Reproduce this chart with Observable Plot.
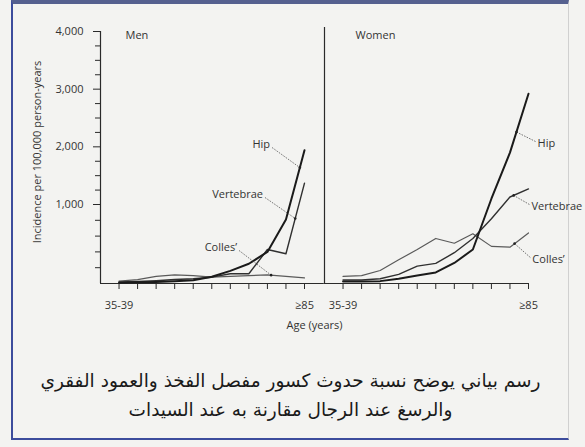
<!DOCTYPE html>
<html><head><meta charset="utf-8">
<script src="https://cdn.jsdelivr.net/npm/d3@7"></script>
<script src="https://cdn.jsdelivr.net/npm/@observablehq/plot@0.6"></script>
<style>
html,body{margin:0;padding:0;background:#f3f3f1;width:585px;height:447px;overflow:hidden;}
#page{position:relative;width:585px;height:447px;}
#frame{position:absolute;left:11px;top:0;width:558px;height:440px;border-left:2px solid #3c4c9c;border-bottom:2px solid #3c4c9c;border-top:4px solid #55608f;border-right:1px solid #d0d0d0;box-sizing:border-box;}
#chart{position:absolute;left:0;top:0;}
#caption{position:absolute;left:13px;top:366px;width:555px;text-align:center;direction:rtl;font-family:"DejaVu Sans",sans-serif;font-size:18.5px;line-height:29px;color:#1a1a1a;}
</style></head>
<body><div id="page"><div id="frame"></div><div id="chart"></div>
<div id="caption">رسم بياني يوضح نسبة حدوث كسور مفصل الفخذ والعمود الفقري<br>والرسغ عند الرجال مقارنة به عند السيدات</div></div>
<script>
const ages = ["35-39","40-44","45-49","50-54","55-59","60-64","65-69","70-74","75-79","80-84","≥85"];
const sexes = ["Men","Women"];
const sites = ["Hip","Vertebrae","Colles’"];
const menHip = [10, 15, 20, 30, 40, 85, 160, 250, 400, 810, 1940];
const menVertebrae = [20, 25, 35, 50, 60, 80, 123, 123, 430, 376, 1370];
const menColles = [30, 50, 90, 110, 100, 80, 90, 100, 110, 90, 70];
const womenHip = [25, 25, 30, 60, 100, 140, 260, 430, 1100, 1900, 2920];
const womenVertebrae = [45, 45, 60, 115, 220, 255, 390, 570, 820, 1130, 1270];
const womenColles = [90, 100, 165, 300, 430, 570, 510, 630, 470, 460, 640];
const yTicks = [1000, 2000, 3000, 4000];
const yMinorTicks = [200, 400, 600, 800, 1250, 1500, 1750, 2250, 2500, 2750, 3250, 3500, 3750];
const yLabel = "Incidence per 100,000 person-years";
const xLabel = "Age (years)";
// label annotations: series, point on the line (age index) and label anchor (age index, value)
const noteSex = ["Men","Men","Men","Women","Women","Women"];
const noteSite = ["Hip","Vertebrae","Colles’","Hip","Vertebrae","Colles’"];
const noteTipAt = [9.75, 9.5, 8.2, 9.35, 9.2, 9.25];
const noteFromAge = [8.25, 7.87, 6.47, 10.38, 10.05, 10.1];
const noteFromValue = [1988, 1121, 418, 2092, 1000, 329];

const series = {
  Men: {"Hip": menHip, "Vertebrae": menVertebrae, "Colles’": menColles},
  Women: {"Hip": womenHip, "Vertebrae": womenVertebrae, "Colles’": womenColles}
};
const rows = [];
for (const sex of sexes) for (const site of sites)
  series[sex][site].forEach((v, i) => rows.push({sex, site, i, age: ages[i], value: v}));

// the printed axis is stretched below 1,000 (broken scale): 0–1,000 takes more room than each 1,000 above
const breakAt = 1000, upperRatio = 57.67 / 79;
const warp = v => v <= breakAt ? v : breakAt + (v - breakAt) * upperRatio;
const unwarp = u => u <= breakAt ? u : breakAt + (u - breakAt) / upperRatio;
function along(vals, t) {
  const a = Math.floor(t), b = Math.min(a + 1, vals.length - 1), f = t - a;
  const pa = warp(vals[a]), pb = warp(vals[b]);
  return unwarp(pa + f * (pb - pa));
}
const notes = noteSex.map((sex, k) => ({
  sex, site: noteSite[k],
  tipX: noteTipAt[k], tipY: along(series[sex][noteSite[k]], noteTipAt[k]),
  fromX: noteFromAge[k], fromY: noteFromValue[k]
}));

const ink = "#2a2a2a";
const chart = Plot.plot({
  width: 585, height: 340,
  marginLeft: 100, marginRight: 56, marginTop: 20, marginBottom: 57,
  style: {background: "transparent", fontFamily: "'Open Sans', sans-serif", fontSize: "11px", color: "#333"},
  fx: {domain: sexes, paddingInner: 0.0882, paddingOuter: 0, axis: null, label: null},
  x: {domain: [-1, 10], label: null},
  y: {type: "linear", transform: warp, domain: [0, warp(4000)], range: [283, 31], label: null},
  marks: [
    Plot.ruleY([{sex: "Men", end: 11.07}, {sex: "Women", end: 10}], {fx: "sex", y: 0, x1: -1, x2: "end", stroke: ink, strokeWidth: 1.2}),
    Plot.ruleX([{sex: "Men", top: 4000}, {sex: "Women", top: 4070}], {fx: "sex", x: -1, y1: 0, y2: "top", stroke: ink, strokeWidth: 1.2}),
    Plot.axisY(yTicks, {tickSize: 7, tickPadding: 10, tickFormat: d3.format(","), label: yLabel, labelAnchor: "center", labelOffset: 67, labelArrow: "none", stroke: ink}),
    Plot.axisY(yMinorTicks, {tickSize: 5, tickFormat: () => "", label: null, stroke: ink}),
    Plot.axisX(d3.range(ages.length), {tickSize: 6, tickPadding: 12, tickFormat: i => (i === 0 || i === ages.length - 1) ? ages[i] : "", label: null, stroke: ink}),
    Plot.line(rows, {filter: d => d.site === "Colles’", fx: "sex", x: "i", y: "value", stroke: "#5a5a5a", strokeWidth: 1.2}),
    Plot.line(rows, {filter: d => d.site === "Vertebrae", fx: "sex", x: "i", y: "value", stroke: "#303030", strokeWidth: 1.4}),
    Plot.line(rows, {filter: d => d.site === "Hip", fx: "sex", x: "i", y: "value", stroke: "#1a1a1a", strokeWidth: 2}),
    Plot.link(notes, {fx: "sex", x1: "fromX", y1: "fromY", x2: "tipX", y2: "tipY", stroke: "#555", strokeWidth: 0.8, strokeDasharray: "1.6,1.2"}),
    Plot.dot(notes, {fx: "sex", x: "tipX", y: "tipY", r: 1.3, fill: "#222", stroke: null}),
    Plot.text(notes, {filter: d => d.sex === "Men", fx: "sex", x: "fromX", y: "fromY", text: "site", textAnchor: "end", dx: -2, dy: -3, fill: "#333"}),
    Plot.text(notes, {filter: d => d.sex === "Women", fx: "sex", x: "fromX", y: "fromY", text: "site", textAnchor: "start", dx: 2, dy: 2, fill: "#333"}),
    Plot.text([{sex: "Men"}], {fx: "sex", text: "sex", frameAnchor: "top-left", textAnchor: "start", lineAnchor: "middle", dx: 25, dy: 15, fill: "#333"}),
    Plot.text([{sex: "Women"}], {fx: "sex", text: "sex", frameAnchor: "top-left", textAnchor: "start", lineAnchor: "middle", dx: 31, dy: 15, fill: "#333"}),
    Plot.text([xLabel], {facet: "super", frameAnchor: "bottom", lineAnchor: "middle", dy: 42, fill: "#333"})
  ]
});
document.getElementById("chart").appendChild(chart);
</script>
</body></html>
